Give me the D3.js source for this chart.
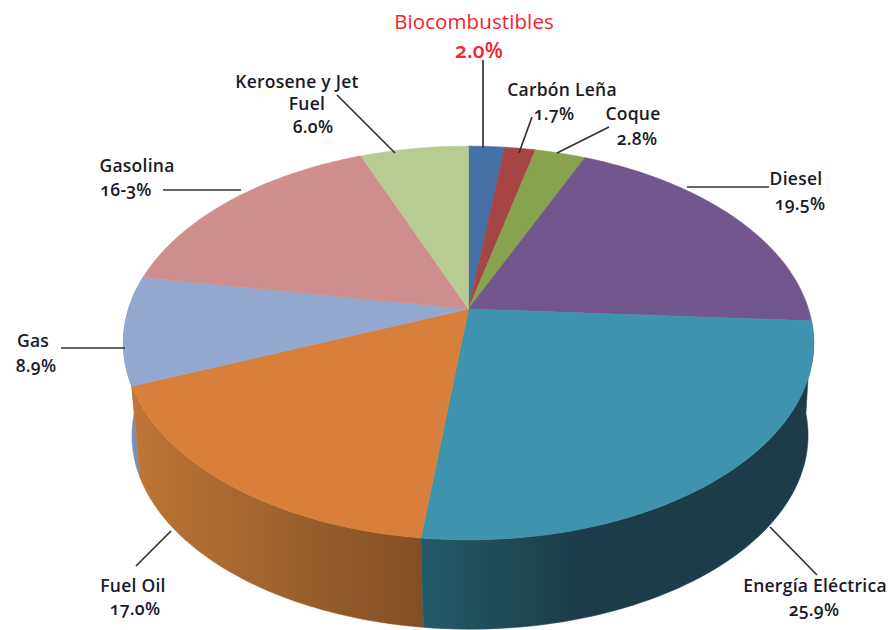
<!DOCTYPE html>
<html><head><meta charset="utf-8">
<script src="https://cdn.jsdelivr.net/npm/d3@7"></script>
<style>
html,body{margin:0;padding:0;background:#fff;overflow:hidden}
text{font-family:"Open Sans",sans-serif;font-size:17.5px;letter-spacing:0.25px;font-weight:600;fill:#1a1a2a;text-anchor:middle;font-variant-numeric:oldstyle-nums;font-feature-settings:"onum"}
</style></head><body>
<svg id="c" width="890" height="630"></svg>
<script>
const categories=["Biocombustibles","Carbón Leña","Coque","Diesel","Energía Eléctrica","Fuel Oil","Gas","Gasolina","Kerosene y Jet Fuel"];
const values=[2.0,1.7,2.8,19.5,25.9,17.0,8.9,16.3,6.0];
const valueLabels=["2.0%","1.7%","2.8%","19.5%","25.9%","17.0%","8.9%","16-3%","6.0%"];
const colors=["#4571a6","#a64644","#87a34e","#71578d","#3f93ac","#d87f3b","#93a8cf","#ce8e8d","#b8cb93"];

// Layout only: label lines [text, x, baseline] per category and leader line ends
const labelLayout=[
 [[categories[0],474,29],[valueLabels[0],479,58]],
 [[categories[1],562,96],[valueLabels[1],554,120]],
 [[categories[2],633,120],[valueLabels[2],637,145]],
 [[categories[3],796,185],[valueLabels[3],800,210]],
 [[categories[4],815,592],[valueLabels[4],814,616]],
 [[categories[5],133,592],[valueLabels[5],135,615]],
 [[categories[6],33,347],[valueLabels[6],36,372]],
 [[categories[7],137,172],[valueLabels[7],126,196]],
 [["Kerosene y Jet",297,88],["Fuel",307,110],[valueLabels[8],313,133]]
];
const leaders=[[483,60,483,148],[532,117,519,153],[609,127,557,153],[687,187,769,187],[770,527,817,575],[171,531,136,566],[61,348,125,348],[163,190,241,190],[337,95,395,153]];

const svg=d3.select("#c");
const defs=svg.append("defs");
const arcs=d3.pie().sort(null).value(d=>d)(values);

// Perspective projection of the disc: top and bottom rims
const k=0.1726;
const top_={cx:468.5,cy:309,b:340,a:191};
const bot={cx:470,cy:402,b:333,a:188};
const proj=(p,t)=>{const x=Math.sin(t),y=-Math.cos(t),w=1-k*y;return [p.cx+p.b*x/w,p.cy+p.a*y/w];};
const samples=(a0,a1)=>d3.range(0,61).map(i=>a0+(a1-a0)*i/60);
const line=d3.line();

const grad=(id,x1,x2,stops)=>{
  const g=defs.append("linearGradient").attr("id",id).attr("gradientUnits","userSpaceOnUse")
    .attr("x1",x1).attr("x2",x2).attr("y1",0).attr("y2",0);
  stops.forEach(s=>g.append("stop").attr("offset",s[0]).attr("stop-color",s[1]));
};
grad("sE",422,815,[[0,"#245a6a"],[0.4,"#1b3c48"],[1,"#1b3c48"]]);
grad("sF",131,422,[[0,"#bf7535"],[1,"#824f25"]]);
grad("sG",125,145,[[0,"#7f93b5"],[1,"#7389ad"]]);

// Side walls, only the visible ones (Gas, Fuel Oil, Energía Eléctrica)
const sideFill={4:"url(#sE)",5:"url(#sF)",6:"url(#sG)"};
[6,5,4].forEach(i=>{
  const d=arcs[i];
  const s=samples(d.startAngle,d.endAngle);
  const pts=s.map(t=>proj(top_,t)).concat(s.slice().reverse().map(t=>proj(bot,t)));
  svg.append("path").attr("d",line(pts)+"Z").attr("fill",sideFill[i]).attr("stroke",sideFill[i]).attr("stroke-width",0.5);
});

// Top faces
arcs.forEach((d,i)=>{
  const pts=[[top_.cx,top_.cy]].concat(samples(d.startAngle,d.endAngle).map(t=>proj(top_,t)));
  svg.append("path").attr("d",line(pts)+"Z").attr("fill",colors[i]).attr("stroke",colors[i]).attr("stroke-width",0.6);
});

// Leaders
svg.selectAll("line.l").data(leaders).join("line").attr("class","l")
  .attr("x1",d=>d[0]).attr("y1",d=>d[1]).attr("x2",d=>d[2]).attr("y2",d=>d[3])
  .attr("stroke","#333").attr("stroke-width",1.7);

// Labels
labelLayout.forEach((lines,i)=>{
  lines.forEach(l=>{
    const t=svg.append("text").attr("x",l[1]).attr("y",l[2]).text(l[0]);
    if(i===0) t.style("fill","#f5222d").style("letter-spacing","0.1px").style("font-size",l[0]===categories[0]?"20.5px":"21px").style("font-weight",l[0]===categories[0]?500:600);
  });
});
</script></body></html>
